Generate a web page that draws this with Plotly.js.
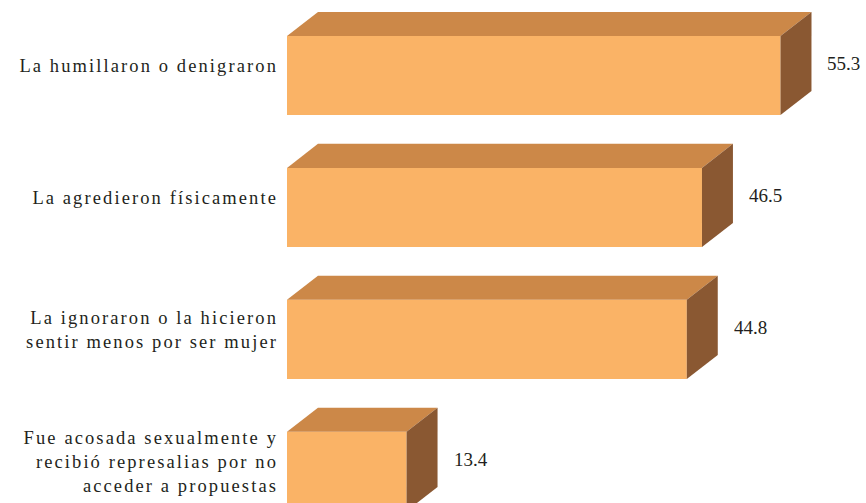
<!DOCTYPE html>
<html>
<head>
<meta charset="utf-8">
<script src="https://cdn.plot.ly/plotly-3.0.1.min.js"></script>
<style>
  html, body { margin: 0; padding: 0; background: #fff; }
  #chart { width: 866px; height: 503px; }
  /* the source typesets the labels with wide tracking */
  .ytick text { letter-spacing: 2.1px; }
</style>
</head>
<body>
<div id="chart"></div>
<script>
// categories, top to bottom
const categories = [
    'La humillaron o denigraron',
    'La agredieron físicamente',
    'La ignoraron o la hicieron<br>sentir menos por ser mujer',
    'Fue acosada sexualmente y<br>recibió represalias por no<br>acceder a propuestas'
];
const values = [55.3, 46.5, 44.8, 13.4];
const valueLabels = ['55.3', '46.5', '44.8', '13.4'];

// colours of the three faces of each box
const frontColor = '#FAB366';
const topColor = '#CC8848';
const sideColor = '#8A5832';

const serif = '"Liberation Serif", "Times New Roman", Times, serif';

// box geometry, in axis units
const barWidth = 0.6;    // front face height (category units)
const depthX = 3.47;     // depth drawn to the right (value units)
const depthY = 0.182;    // depth drawn upwards (category units)

const positions = values.map((v, i) => i);

// top and side faces of every box, built from the values
const shapes = [];
values.forEach((v, i) => {
    const yTop = i - barWidth / 2;
    const yBot = i + barWidth / 2;
    const topPath = `M 0 ${yTop} L ${v} ${yTop} L ${v + depthX} ${yTop - depthY} L ${depthX} ${yTop - depthY} Z`;
    const sidePath = `M ${v} ${yTop} L ${v + depthX} ${yTop - depthY} L ${v + depthX} ${yBot - depthY} L ${v} ${yBot} Z`;
    shapes.push({ type: 'path', xref: 'x', yref: 'y', path: topPath, fillcolor: topColor, line: { width: 0 } });
    shapes.push({ type: 'path', xref: 'x', yref: 'y', path: sidePath, fillcolor: sideColor, line: { width: 0 } });
});

// value labels beside the side face
const annotations = values.map((v, i) => ({
    x: v + depthX,
    y: i - depthY / 2,
    xref: 'x',
    yref: 'y',
    text: valueLabels[i],
    showarrow: false,
    xanchor: 'left',
    yanchor: 'middle',
    xshift: 14,
    font: { family: serif, size: 19, color: '#231F20' }
}));

const trace = {
    type: 'bar',
    orientation: 'h',
    x: values,
    y: positions,
    width: barWidth,
    marker: { color: frontColor, line: { width: 0 } },
    hoverinfo: 'skip'
};

const layout = {
    width: 866,
    height: 503,
    margin: { l: 287, r: 0, t: 0, b: 0 },
    paper_bgcolor: '#ffffff',
    plot_bgcolor: '#ffffff',
    showlegend: false,
    xaxis: {
        visible: false,
        range: [0, 64.88],
        fixedrange: true
    },
    yaxis: {
        range: [3.239, -0.572],
        tickmode: 'array',
        tickvals: positions.map(p => p - 0.075),
        ticktext: categories,
        ticks: '',
        ticklabelstandoff: 8,
        showgrid: false,
        zeroline: false,
        showline: false,
        tickfont: { family: serif, size: 18.5, color: '#231F20' },
        fixedrange: true
    },
    shapes: shapes,
    annotations: annotations
};

Plotly.newPlot('chart', [trace], layout, { displayModeBar: false, staticPlot: true });
</script>
</body>
</html>
